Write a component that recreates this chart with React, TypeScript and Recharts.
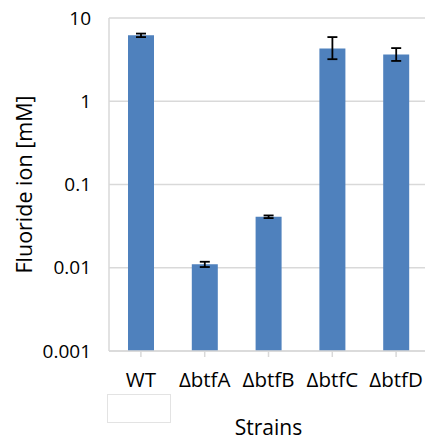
import React from 'react';
import { BarChart, Bar, XAxis, YAxis, CartesianGrid, ErrorBar } from 'recharts';

const strains = ['WT', 'ΔbtfA', 'ΔbtfB', 'ΔbtfC', 'ΔbtfD'];
const fluoride = [6.2, 0.011, 0.041, 4.3, 3.65];
const errLow = [0.3, 0.0008, 0.0015, 1.1, 0.6];
const errHigh = [0.3, 0.0008, 0.0015, 1.6, 0.7];
const yTicks = [0.001, 0.01, 0.1, 1, 10];

const data = strains.map((name, i) => ({
  name,
  value: fluoride[i],
  err: [errLow[i], errHigh[i]],
}));

const font = '"Open Sans", sans-serif';

export default function App() {
  return (
    <div style={{ position: 'absolute', left: 0, top: 0, width: 425, height: 442, overflow: 'hidden', background: '#fff' }}>
      <BarChart
        width={430}
        height={442}
        data={data}
        margin={{ top: 18, right: 2, left: 0, bottom: 0 }}
      >
        <CartesianGrid vertical={false} stroke="#d9d9d9" strokeWidth={1.5} />
        <XAxis
          dataKey="name"
          height={91}
          tick={{ fontSize: 20.5, fill: '#000', fontFamily: font }}
          tickSize={6}
          tickMargin={15}
          axisLine={{ stroke: '#d9d9d9', strokeWidth: 1.5 }}
          tickLine={{ stroke: '#d9d9d9', strokeWidth: 1.5 }}
          interval={0}
          label={{ value: 'Strains', position: 'insideBottom', offset: 7, fontSize: 21, fill: '#000', fontFamily: font }}
        />
        <YAxis
          scale="log"
          domain={[0.001, 10]}
          ticks={yTicks}
          allowDataOverflow
          width={109}
          tickLine={false}
          tickMargin={12}
          axisLine={{ stroke: '#d9d9d9', strokeWidth: 1.5 }}
          tick={{ fontSize: 19, fill: '#000', fontFamily: font }}
          tickFormatter={(v: number) => String(v)}
          label={{ value: 'Fluoride ion [mM]', angle: -90, position: 'insideLeft', offset: 24, fontSize: 21.5, fill: '#000', fontFamily: font, style: { textAnchor: 'middle' } }}
        />
        <Bar dataKey="value" fill="#4f81bd" barSize={26} isAnimationActive={false}>
          <ErrorBar dataKey="err" width={5} stroke="#000" strokeWidth={1.8} isAnimationActive={false} />
        </Bar>
      </BarChart>
      <div style={{ position: 'absolute', left: 107, top: 394, width: 62, height: 27, border: '1px solid #e3e3e3', background: '#fff' }} />
    </div>
  );
}
